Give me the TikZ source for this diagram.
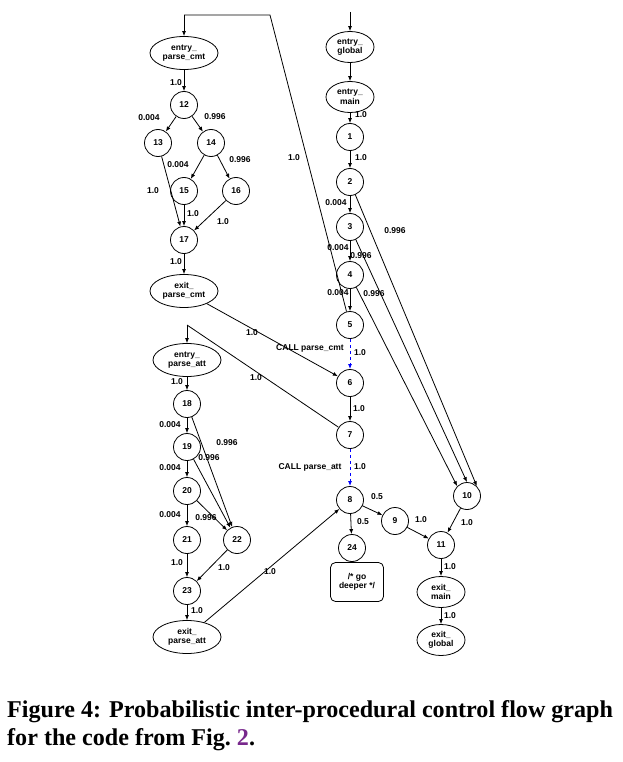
\documentclass[tikz,border=0pt]{standalone}
\usepackage{fontspec}
\setmainfont{Liberation Serif}
\newfontfamily\arialf{Liberation Sans}
\usetikzlibrary{arrows.meta,shapes.geometric}
\definecolor{figpurple}{RGB}{120,40,140}
\begin{document}
\begin{tikzpicture}[x=1pt,y=-1pt,
  every node/.style={font=\arialf\bfseries\fontsize{8.5}{9.5}\selectfont},
  cn/.style={draw,circle,minimum size=27pt,inner sep=0pt,line width=0.8pt},
  en/.style={draw,ellipse,minimum width=68pt,minimum height=33pt,inner sep=0pt,align=center,line width=0.8pt},
  sen/.style={draw,ellipse,minimum width=48pt,minimum height=31pt,inner sep=0pt,align=center,line width=0.8pt},
  ar/.style={-{Latex[length=5pt,width=4pt]},line width=0.8pt},
  call/.style={ar,blue,dashed,line width=1pt},
  lb/.style={inner sep=1pt}]
\useasboundingbox (0,0) rectangle (622,762);
% left top cluster
\node[en] (epc) at (184,53) {entry\_\\parse\_cmt};
\node[cn] (n12) at (184,105) {12};
\node[cn] (n13) at (158,143) {13};
\node[cn] (n14) at (211,143) {14};
\node[cn] (n15) at (184,191) {15};
\node[cn] (n16) at (236,191) {16};
\node[cn] (n17) at (184,240) {17};
\node[en] (xpc) at (184,291) {exit\_\\parse\_cmt};
% main column
\node[sen] (eg) at (350,47) {entry\_\\global};
\node[sen] (em) at (350,97) {entry\_\\main};
\node[cn] (n1) at (350,137) {1};
\node[cn] (n2) at (350,182) {2};
\node[cn] (n3) at (350,227) {3};
\node[cn] (n4) at (350,275) {4};
\node[cn] (n5) at (350,325) {5};
\node[cn] (n6) at (350,383) {6};
\node[cn] (n7) at (350,435) {7};
\node[cn] (n8) at (350,500) {8};
\node[cn] (n9) at (395,521) {9};
\node[cn] (n24) at (352,548) {24};
\node[cn] (n10) at (467,496) {10};
\node[cn] (n11) at (441,545) {11};
\node[sen] (xm) at (441,592) {exit\_\\main};
\node[sen] (xg) at (441,640) {exit\_\\global};
\node[draw,line width=0.8pt,rounded corners=5pt,minimum width=53pt,minimum height=39pt,align=center] (gd) at (357,582) {/* go\\deeper */};
% left bottom cluster
\node[en] (epa) at (187,360) {entry\_\\parse\_att};
\node[cn] (n18) at (187,404) {18};
\node[cn] (n19) at (187,447) {19};
\node[cn] (n20) at (187,491) {20};
\node[cn] (n21) at (187,540) {21};
\node[cn] (n22) at (237,540) {22};
\node[cn] (n23) at (187,591) {23};
\node[en] (xpa) at (187,637) {exit\_\\parse\_att};
\coordinate (t1) at (184,15);
\coordinate (t2) at (270,15);
\coordinate (t3) at (187,325);
\coordinate (tg) at (350,12);
% edges
\draw[line width=0.8pt] (n5) -- (t2) -- (t1);
\draw[ar] (t1) -- (epc);
\draw[line width=0.8pt] (n7) -- (t3);
\draw[ar] (t3) -- (epa);
\draw[ar] (tg) -- (eg);
\draw[ar] (eg) -- (em);
\draw[ar] (em) -- (n1);
\draw[ar] (n1) -- (n2);
\draw[ar] (n2) -- (n3);
\draw[ar] (n3) -- (n4);
\draw[ar] (n4) -- (n5);
\draw[ar] (n2) -- (n10.north east);
\draw[ar] (n3) -- (n10.north);
\draw[ar] (n4) -- (n10.north west);
\draw[call] (n5) -- (n6);
\draw[ar] (n6) -- (n7);
\draw[call] (n7) -- (n8);
\draw[ar] (n8) -- (n9);
\draw[ar] (n8) -- (n24);
\draw[ar] (n9) -- (n11);
\draw[ar] (n10) -- (n11);
\draw[ar] (n11) -- (xm);
\draw[ar] (xm) -- (xg);
\draw[ar] (epc) -- (n12);
\draw[ar] (n12) -- (n13);
\draw[ar] (n12) -- (n14);
\draw[ar] (n14) -- (n15);
\draw[ar] (n14) -- (n16);
\draw[ar] (n13) -- (n17);
\draw[ar] (n15) -- (n17);
\draw[ar] (n16) -- (n17);
\draw[ar] (n17) -- (xpc);
\draw[ar] (xpc) -- (n6);
\draw[ar] (epa) -- (n18);
\draw[ar] (n18) -- (n19);
\draw[ar] (n19) -- (n20);
\draw[ar] (n20) -- (n21);
\draw[ar] (n18) -- (n22);
\draw[ar] (n19) -- (n22);
\draw[ar] (n20) -- (n22);
\draw[ar] (n21) -- (n23);
\draw[ar] (n22) -- (n23);
\draw[ar] (n23) -- (xpa);
\draw[ar] (xpa) -- (n8);
% labels
\node[lb] (l01) at (294,158) {1.0};
\node[lb] (l02) at (176,83) {1.0};
\node[lb] (l03) at (149,118) {0.004};
\node[lb] (l04) at (215,117) {0.996};
\node[lb] (l05) at (178,165) {0.004};
\node[lb] (l06) at (240,160) {0.996};
\node[lb] (l07) at (153,191) {1.0};
\node[lb] (l08) at (193,214) {1.0};
\node[lb] (l09) at (223,222) {1.0};
\node[lb] (l10) at (176,262) {1.0};
\node[lb] (l11) at (361,115) {1.0};
\node[lb] (l12) at (361,158) {1.0};
\node[lb] (l13) at (336,203) {0.004};
\node[lb] (l14) at (395,231) {0.996};
\node[lb] (l15) at (338,248) {0.004};
\node[lb] (l16) at (361,256) {0.996};
\node[lb] (l17) at (338,293) {0.004};
\node[lb] (l18) at (374,294) {0.996};
\node[lb] (l19) at (252,333) {1.0};
\node[lb] (l20) at (310,348) {CALL parse\_cmt};
\node[lb] (l21) at (360,353) {1.0};
\node[lb] (l22) at (256,378) {1.0};
\node[lb] (l23) at (359,409) {1.0};
\node[lb] (l24) at (310,467) {CALL parse\_att};
\node[lb] (l25) at (360,467) {1.0};
\node[lb] (l26) at (377,497) {0.5};
\node[lb] (l27) at (363,522) {0.5};
\node[lb] (l28) at (421,520) {1.0};
\node[lb] (l29) at (467,523) {1.0};
\node[lb] (l30) at (450,567) {1.0};
\node[lb] (l31) at (450,616) {1.0};
\node[lb] (l32) at (177,382) {1.0};
\node[lb] (l33) at (170,425) {0.004};
\node[lb] (l34) at (227,443) {0.996};
\node[lb] (l35) at (209,458) {0.996};
\node[lb] (l36) at (170,468) {0.004};
\node[lb] (l37) at (170,515) {0.004};
\node[lb] (l38) at (206,518) {0.996};
\node[lb] (l39) at (177,563) {1.0};
\node[lb] (l40) at (224,568) {1.0};
\node[lb] (l41) at (197,611) {1.0};
\node[lb] (l42) at (270,572) {1.0};
\node[anchor=north west,align=left,inner sep=0pt,font=\rmfamily\bfseries\fontsize{24.1}{28}\selectfont] (cap) at (7,700) {Figure 4: Probabilistic inter-procedural control flow graph\\for the code from Fig.~\textcolor{figpurple}{2}.};
\end{tikzpicture}
\end{document}
